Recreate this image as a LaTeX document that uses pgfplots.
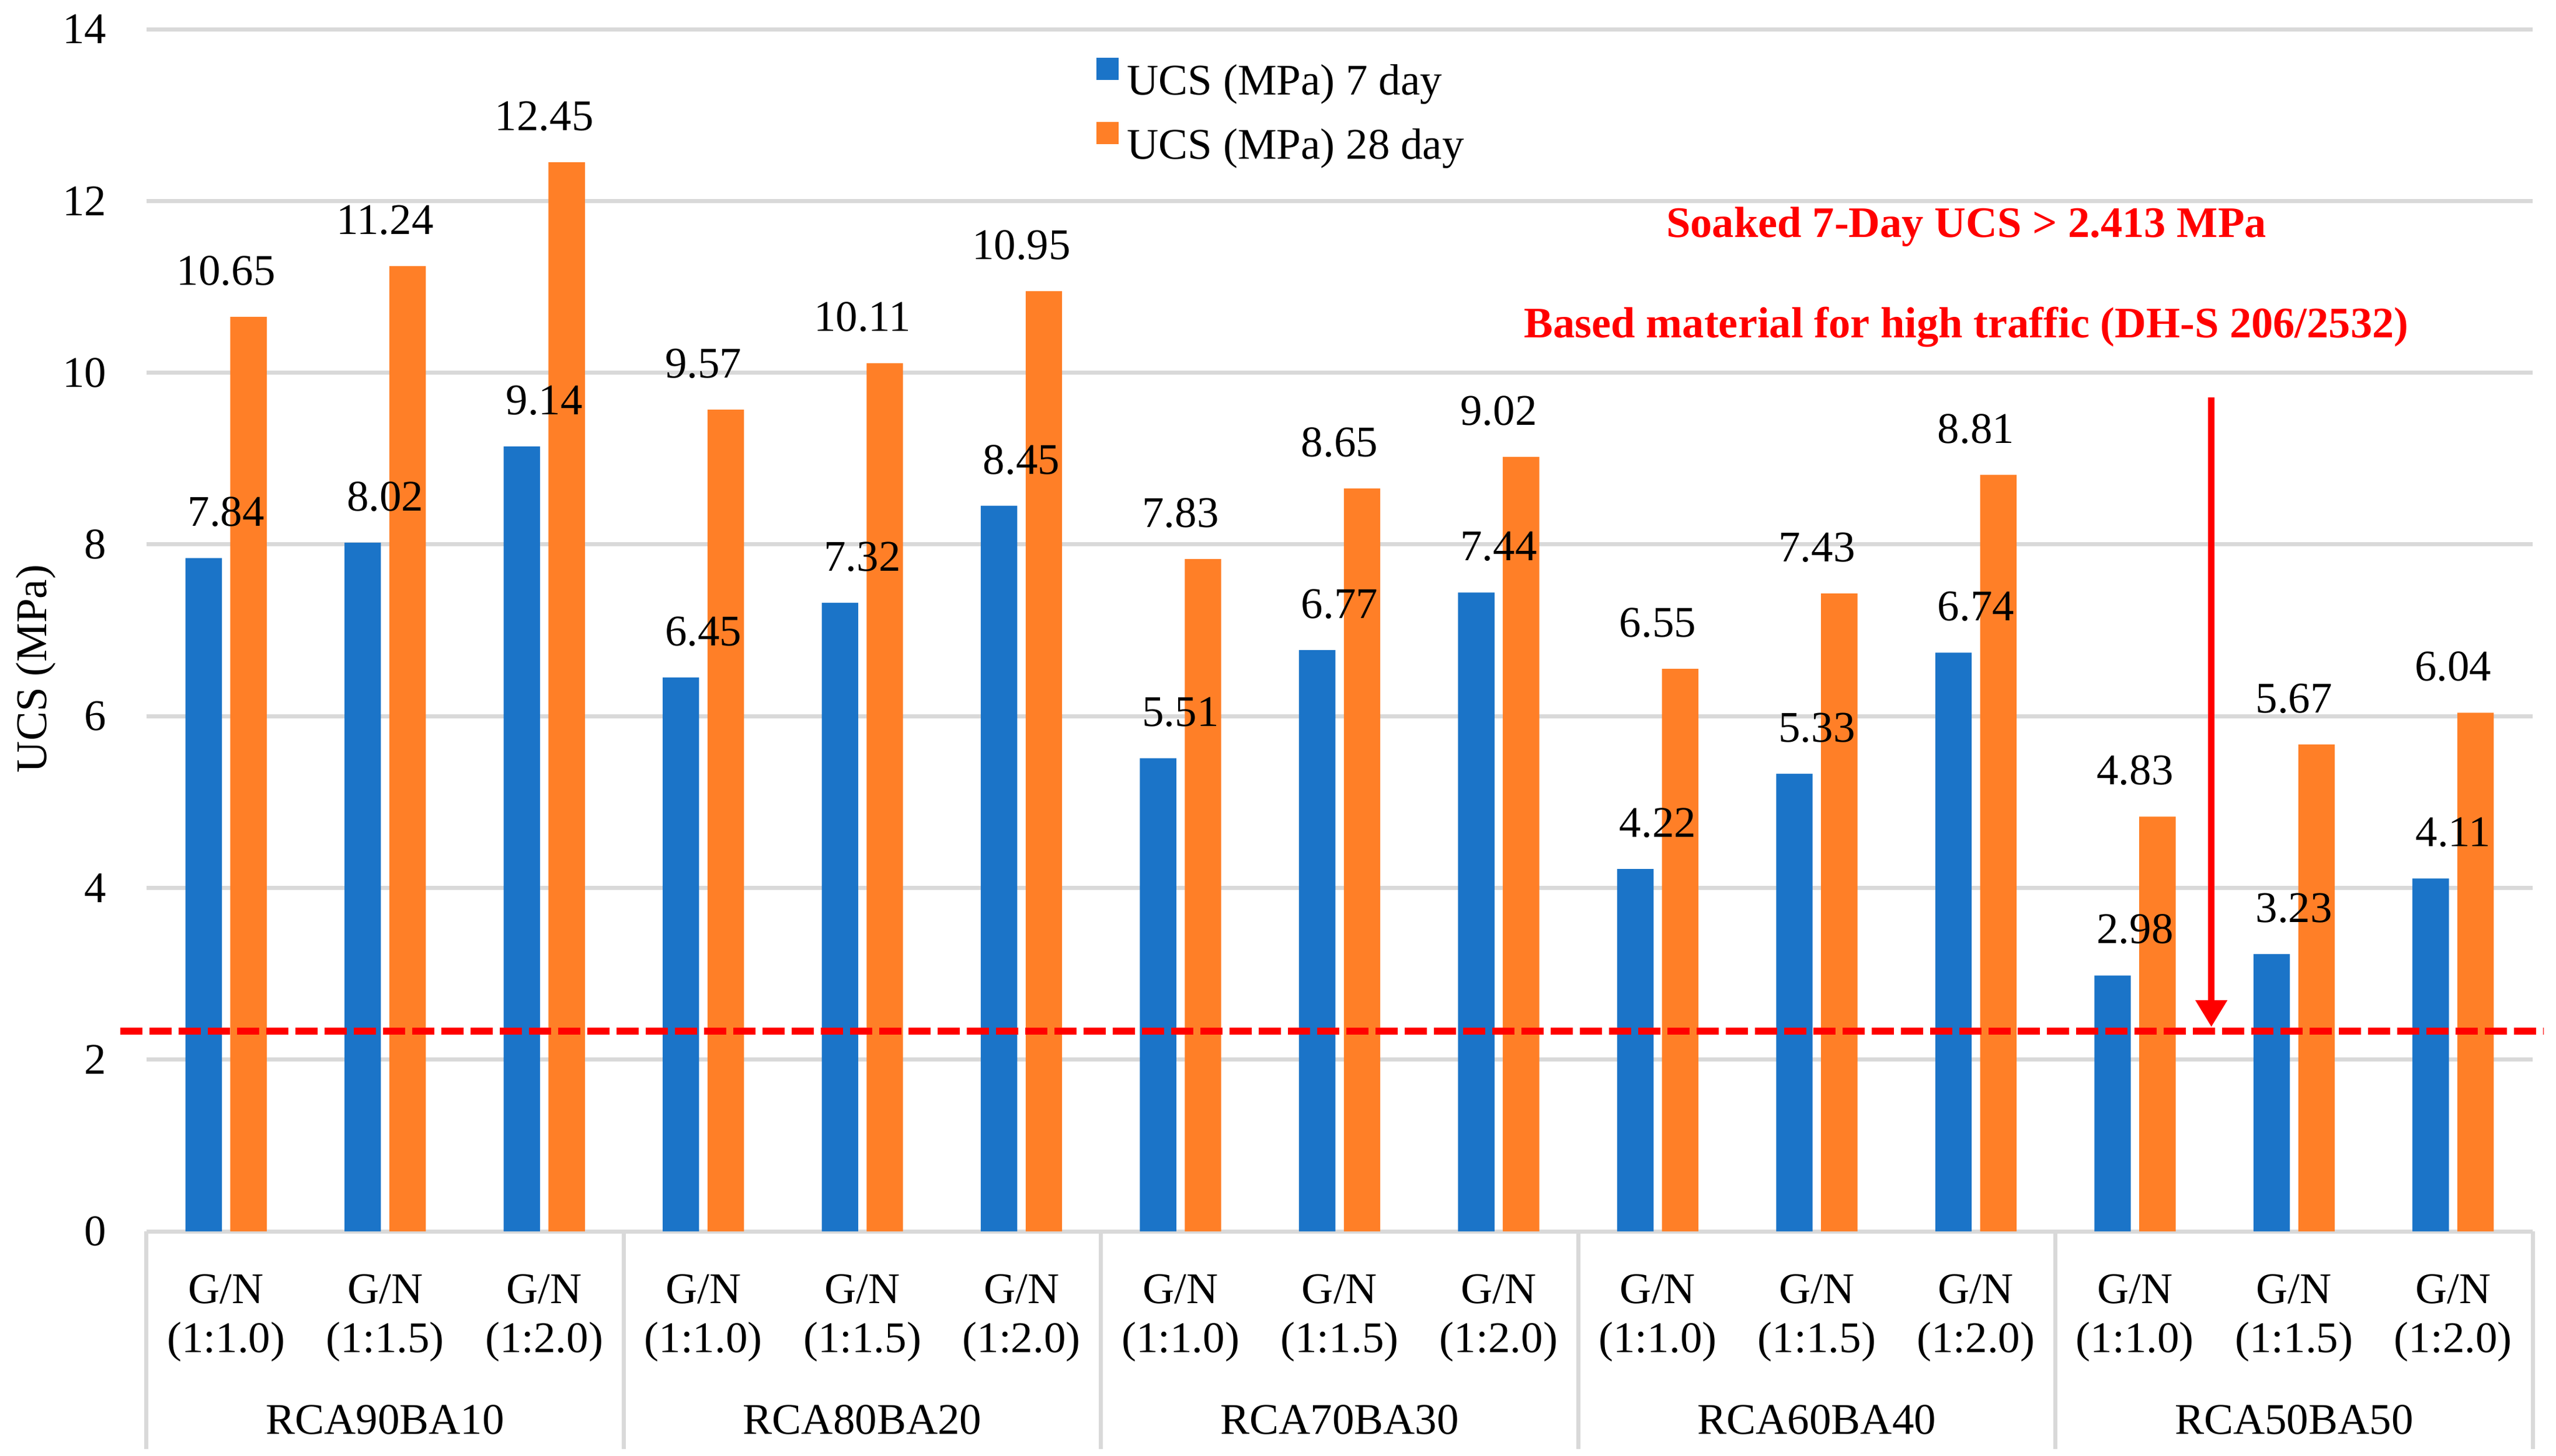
\documentclass[border=0pt]{standalone}
\usepackage{pgfplots}
\pgfplotsset{compat=1.18}
\usepackage{fontspec}
\setmainfont{Liberation Serif}
\usetikzlibrary{arrows.meta}
\definecolor{cblue}{HTML}{1B74C8}
\definecolor{corange}{HTML}{FF7F27}
\definecolor{cgrid}{HTML}{D9D9D9}
\definecolor{cred}{HTML}{FF0000}
\begin{document}
\fontsize{7.5}{8.4}\selectfont
\begin{tikzpicture}[font=\fontsize{7.5}{8.4}\selectfont\rmfamily]
\begin{axis}[
  scale only axis, width=408.7pt, height=206pt,
  at={(0,0)}, anchor=south west,
  xmin=-0.5, xmax=14.5, ymin=0, ymax=14,
  ytick={0,2,...,14},
  yticklabels={0,2,4,6,8,10,12,14},
  xtick={0,...,14},
  xticklabels={{G/N\\(1:1.0)},{G/N\\(1:1.5)},{G/N\\(1:2.0)},
               {G/N\\(1:1.0)},{G/N\\(1:1.5)},{G/N\\(1:2.0)},
               {G/N\\(1:1.0)},{G/N\\(1:1.5)},{G/N\\(1:2.0)},
               {G/N\\(1:1.0)},{G/N\\(1:1.5)},{G/N\\(1:2.0)},
               {G/N\\(1:1.0)},{G/N\\(1:1.5)},{G/N\\(1:2.0)}},
  xticklabel style={align=center, anchor=center, yshift=-14.9pt},
  yticklabel style={xshift=-4.2pt, font=\fontsize{7.5}{8.4}\selectfont\rmfamily},
  axis line style={draw=none},
  major tick length=0pt,
  ymajorgrids, grid style={cgrid, line width=0.7pt},
  clip=false,
  ylabel={UCS (MPa)},
  ylabel style={at={(axis description cs:-0.0465,0.468)}, anchor=center},
  legend style={at={(axis cs:5.47,13.02)}, anchor=west, draw=none, fill=none,
    inner sep=0pt, outer sep=0pt, row sep=3pt, column sep=1.5pt,
    nodes={inner sep=0pt, text height=5.5pt, text depth=1.7pt}},
  legend cell align=left,
  legend image code/.code={\fill[#1] (0pt,0.6pt) rectangle (3.8pt,4.4pt);},
  every node near coord/.append style={anchor=center, yshift=7.9pt, black, font=\fontsize{7.5}{8.4}\selectfont\rmfamily},
]
\addplot[ybar, bar width=0.229, bar shift=-0.141, fill=cblue, draw=none,
  point meta=explicit symbolic, nodes near coords]
  coordinates {(0,7.84) [7.84] (1,8.02) [8.02] (2,9.14) [9.14] (3,6.45) [6.45] (4,7.32) [7.32] (5,8.45) [8.45] (6,5.51) [5.51] (7,6.77) [6.77] (8,7.44) [7.44] (9,4.22) [4.22] (10,5.33) [5.33] (11,6.74) [6.74] (12,2.98) [2.98] (13,3.23) [3.23] (14,4.11) [4.11]};
\addlegendentry{UCS (MPa) 7 day}
\addplot[ybar, bar width=0.229, bar shift=0.141, fill=corange, draw=none,
  point meta=explicit symbolic, nodes near coords]
  coordinates {(0,10.65) [10.65] (1,11.24) [11.24] (2,12.45) [12.45] (3,9.57) [9.57] (4,10.11) [10.11] (5,10.95) [10.95] (6,7.83) [7.83] (7,8.65) [8.65] (8,9.02) [9.02] (9,6.55) [6.55] (10,7.43) [7.43] (11,8.81) [8.81] (12,4.83) [4.83] (13,5.67) [5.67] (14,6.04) [6.04]};
\addlegendentry{UCS (MPa) 28 day}
\addplot[cred, line width=1.2pt, dash pattern=on 3.8pt off 1.2pt, forget plot]
  coordinates {(-0.665,2.33) (14.57,2.33)};
\addplot[cred, line width=1.1pt, -{Triangle[width=5.2pt,length=4.6pt]}, forget plot]
  coordinates {(12.48,9.71) (12.48,2.38)};
\draw[cgrid, line width=0.7pt] (axis cs:-0.5,0) -- ++(0pt,-37.3pt);
\draw[cgrid, line width=0.7pt] (axis cs:2.5,0) -- ++(0pt,-37.3pt);
\draw[cgrid, line width=0.7pt] (axis cs:5.5,0) -- ++(0pt,-37.3pt);
\draw[cgrid, line width=0.7pt] (axis cs:8.5,0) -- ++(0pt,-37.3pt);
\draw[cgrid, line width=0.7pt] (axis cs:11.5,0) -- ++(0pt,-37.3pt);
\draw[cgrid, line width=0.7pt] (axis cs:14.5,0) -- ++(0pt,-37.3pt);
\node[anchor=center, yshift=-32.3pt] at (axis cs:1,0) {RCA90BA10};
\node[anchor=center, yshift=-32.3pt] at (axis cs:4,0) {RCA80BA20};
\node[anchor=center, yshift=-32.3pt] at (axis cs:7,0) {RCA70BA30};
\node[anchor=center, yshift=-32.3pt] at (axis cs:10,0) {RCA60BA40};
\node[anchor=center, yshift=-32.3pt] at (axis cs:13,0) {RCA50BA50};
\node[text=cred, font=\fontsize{7.45}{8.4}\selectfont\bfseries, anchor=center] at (axis cs:10.94,11.70) {Soaked 7-Day UCS > 2.413 MPa};
\node[text=cred, font=\fontsize{7.45}{8.4}\selectfont\bfseries, anchor=center] at (axis cs:10.94,10.53) {Based material for high traffic (DH-S 206/2532)};
\end{axis}
\pgfresetboundingbox
\path[use as bounding box] (-25.1pt,-38.4pt) rectangle (412.7pt,211pt);
\end{tikzpicture}
\end{document}
